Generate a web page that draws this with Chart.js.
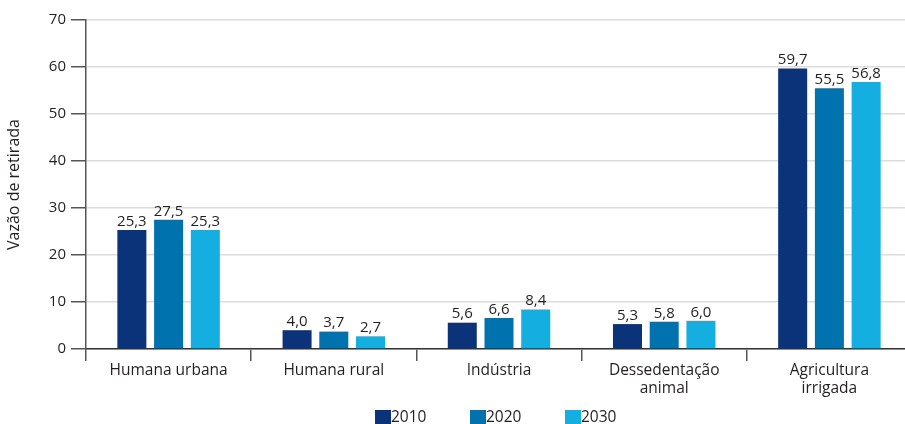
<!DOCTYPE html>
<html>
<head>
<meta charset="utf-8">
<script src="https://cdn.jsdelivr.net/npm/chart.js@4/dist/chart.umd.min.js"></script>
<style>
    html, body { margin: 0; padding: 0; background: #fff; overflow: hidden; }
    #wrap { width: 905px; height: 424px; overflow: hidden; }
    #box { width: 912px; height: 424px; }
</style>
</head>
<body>
<div id="wrap"><div id="box"><canvas id="chart"></canvas></div></div>
<script>
// Categories and series
const categories = ['Humana urbana', 'Humana rural', 'Indústria', ['Dessedentação', 'animal'], ['Agricultura', 'irrigada']];
const years = ['2010', '2020', '2030'];
const values2010 = [25.3, 4.0, 5.6, 5.3, 59.7];
const values2020 = [27.5, 3.7, 6.6, 5.8, 55.5];
const values2030 = [25.3, 2.7, 8.4, 6.0, 56.8];
const yTicks = [0, 10, 20, 30, 40, 50, 60, 70];

const colors = ['#0a3379', '#0072ae', '#14aee0'];
const textColor = '#231f20';
const fontFamily = "'Open Sans', 'Noto Sans', sans-serif";

// Value labels on top of each bar, with comma decimals
const barLabels = {
    id: 'barLabels',
    afterDatasetsDraw(chart) {
        const ctx = chart.ctx;
        ctx.save();
        ctx.font = '15px ' + fontFamily;
        ctx.fillStyle = textColor;
        ctx.textAlign = 'center';
        ctx.textBaseline = 'bottom';
        chart.data.datasets.forEach((ds, i) => {
            chart.getDatasetMeta(i).data.forEach((bar, j) => {
                ctx.fillText(ds.data[j].toFixed(1).replace('.', ','), bar.x, bar.y - 1);
            });
        });
        ctx.restore();
    }
};

// Legend: square swatch directly followed by the year
const bottomLegend = {
    id: 'bottomLegend',
    afterDraw(chart) {
        const ctx = chart.ctx;
        const startX = 375;
        const step = 95;
        const y = 417;
        ctx.save();
        ctx.font = '15.5px ' + fontFamily;
        ctx.textBaseline = 'middle';
        ctx.textAlign = 'left';
        chart.data.datasets.forEach((ds, i) => {
            const x = startX + i * step;
            ctx.fillStyle = ds.backgroundColor;
            ctx.fillRect(x, y - 7, 16, 14);
            ctx.fillStyle = textColor;
            ctx.fillText(ds.label, x + 16, y + 1);
        });
        ctx.restore();
    }
};

new Chart(document.getElementById('chart'), {
    type: 'bar',
    data: {
        labels: categories,
        datasets: [
            { label: years[0], data: values2010, backgroundColor: colors[0] },
            { label: years[1], data: values2020, backgroundColor: colors[1] },
            { label: years[2], data: values2030, backgroundColor: colors[2] }
        ]
    },
    options: {
        responsive: true,
        maintainAspectRatio: false,
        animation: false,
        layout: { padding: { top: 20, left: 0, right: 0, bottom: 0 } },
        datasets: {
            bar: { categoryPercentage: 0.667, barPercentage: 0.79 }
        },
        plugins: {
            legend: { display: false },
            tooltip: { enabled: false }
        },
        scales: {
            x: {
                afterFit: scale => { scale.height = 75; },
                grid: {
                    offset: true,
                    drawOnChartArea: false,
                    drawTicks: true,
                    tickLength: 12,
                    color: '#555',
                    lineWidth: 1.5
                },
                border: { color: '#333', width: 1.5 },
                ticks: {
                    color: textColor,
                    font: { family: fontFamily, size: 15.5, lineHeight: 1.15 },
                    maxRotation: 0,
                    padding: 1
                }
            },
            y: {
                min: 0,
                max: 70,
                afterFit: scale => { scale.width = 86; },
                afterBuildTicks: scale => { scale.ticks = yTicks.map(v => ({ value: v })); },
                grid: {
                    color: '#dcdcdc',
                    lineWidth: 1.5,
                    drawTicks: true,
                    tickLength: 15,
                    tickColor: '#555'
                },
                border: { color: '#555', width: 1.5 },
                ticks: {
                    color: textColor,
                    font: { family: fontFamily, size: 15 },
                    padding: 5
                },
                title: {
                    display: true,
                    text: 'Vazão de retirada',
                    color: textColor,
                    font: { family: fontFamily, size: 16 },
                    padding: { top: 5, bottom: 6 }
                }
            }
        }
    },
    plugins: [barLabels, bottomLegend]
});
</script>
</body>
</html>
